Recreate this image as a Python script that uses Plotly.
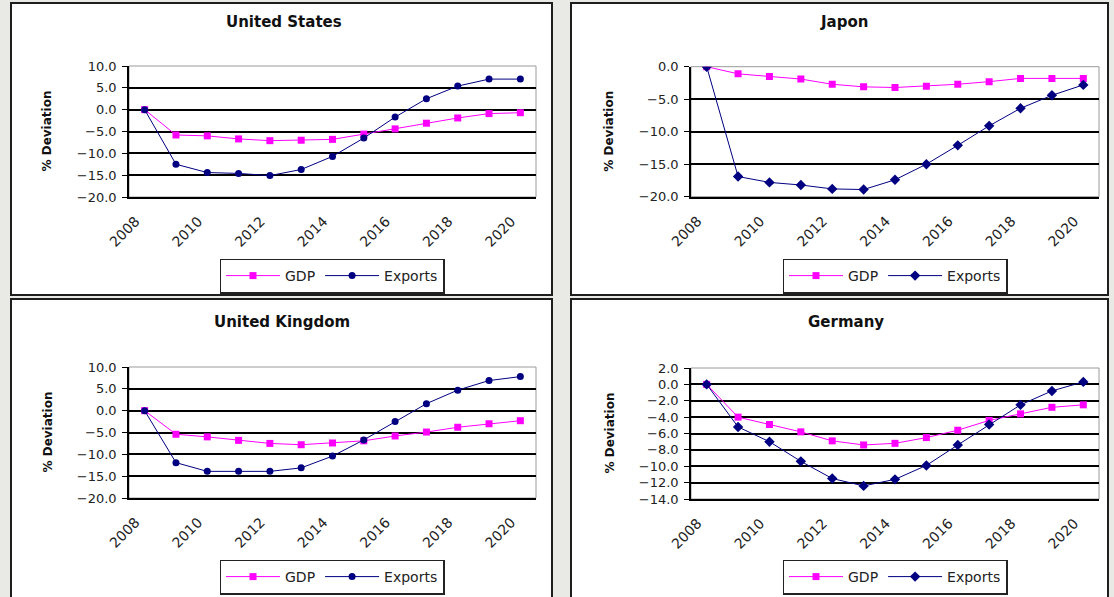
import plotly.graph_objects as go

# Years on the category axis and the labelled ones
years = list(range(2008, 2021))
label_years = list(range(2008, 2021, 2))

# % deviation from baseline, by country
us_gdp = [0.0, -5.8, -6.0, -6.7, -7.1, -7.0, -6.8, -5.6, -4.4, -3.1, -1.9, -0.9, -0.7]
us_exports = [0.0, -12.5, -14.4, -14.6, -15.1, -13.7, -10.7, -6.5, -1.7, 2.5, 5.4, 7.0, 7.0]

jp_gdp = [0.0, -1.1, -1.5, -1.9, -2.7, -3.1, -3.2, -3.0, -2.7, -2.3, -1.8, -1.8, -1.8]
jp_exports = [0.0, -16.9, -17.8, -18.2, -18.8, -18.9, -17.4, -15.0, -12.1, -9.1, -6.4, -4.4, -2.8]

uk_gdp = [0.0, -5.4, -6.0, -6.8, -7.5, -7.8, -7.4, -6.9, -5.8, -4.9, -3.8, -3.0, -2.3]
uk_exports = [0.0, -11.9, -13.9, -13.9, -13.9, -13.1, -10.4, -6.7, -2.5, 1.6, 4.7, 6.9, 7.8]

de_gdp = [0.0, -4.0, -4.9, -5.8, -6.9, -7.4, -7.2, -6.5, -5.6, -4.4, -3.6, -2.8, -2.5]
de_exports = [0.0, -5.2, -7.0, -9.4, -11.5, -12.4, -11.6, -9.9, -7.4, -4.9, -2.5, -0.8, 0.3]

W, H = 1114, 597
FONT = "DejaVu Sans"
GDP_COLOR = "#ff00ff"
EXP_COLOR = "#000080"

# (title, gdp, exports, export marker, y range, y step,
#  plot box px [left, right, top, bottom], panel box px, title pos, ylabel x, legend centre)
panels = [
    ("United States", us_gdp, us_exports, "circle", (-20, 10), 5,
     (129, 536, 66, 197), (11, 552, 3, 295), (284, 22), 47, (332, 276)),
    ("Japon", jp_gdp, jp_exports, "diamond", (-20, 0), 5,
     (691, 1099, 66.7, 196.7), (571, 1108, 3, 295), (844, 22), 609, (895, 276)),
    ("United Kingdom", uk_gdp, uk_exports, "circle", (-20, 10), 5,
     (129, 536, 367, 498), (11, 552, 299, 610), (282, 322), 47, (332, 577)),
    ("Germany", de_gdp, de_exports, "diamond", (-14, 2), 2,
     (691, 1099, 368, 499), (571, 1108, 299, 610), (846, 322), 609, (895, 577)),
]

fig = go.Figure()
shapes = []
annotations = []
layout_axes = {}

for i, (title, gdp, exp, emark, yr, ystep, pbox, panel, tpos, ylx, lpos) in enumerate(panels, start=1):
    xa = "x" if i == 1 else f"x{i}"
    ya = "y" if i == 1 else f"y{i}"
    leg = "legend" if i == 1 else f"legend{i}"
    l, r, t, b = pbox

    # white panel with dark frame
    shapes.append(dict(type="rect", xref="paper", yref="paper", layer="below",
                       x0=panel[0] / W, x1=panel[1] / W,
                       y0=1 - panel[3] / H, y1=1 - panel[2] / H,
                       fillcolor="white", line=dict(color="#1e1e1e", width=2)))
    # light plot-area frame
    shapes.append(dict(type="rect", xref="paper", yref="paper", layer="below",
                       x0=l / W, x1=r / W, y0=1 - b / H, y1=1 - t / H,
                       fillcolor="white", line=dict(color="#9a9a9a", width=1)))

    fig.add_trace(go.Scatter(
        x=years, y=gdp, name="GDP", mode="lines+markers", xaxis=xa, yaxis=ya, legend=leg,
        line=dict(color=GDP_COLOR, width=1),
        marker=dict(symbol="square", size=7, color=GDP_COLOR)))
    fig.add_trace(go.Scatter(
        x=years, y=exp, name="Exports", mode="lines+markers", xaxis=xa, yaxis=ya, legend=leg,
        line=dict(color=EXP_COLOR, width=1),
        marker=dict(symbol=emark, size=7 if emark == "circle" else 8, color=EXP_COLOR)))

    xkey = "xaxis" if i == 1 else f"xaxis{i}"
    ykey = "yaxis" if i == 1 else f"yaxis{i}"
    layout_axes[xkey] = dict(
        domain=[l / W, r / W], anchor=ya, range=[2007.5, 2020.5], automargin=False,
        tickmode="array", tickvals=label_years, ticktext=[str(v) for v in label_years],
        tickangle=-45, showgrid=False, zeroline=False,
        showline=True, linecolor="black", linewidth=1.5, ticks="",
        ticklabelshift=-9, ticklabelstandoff=9,
        tickfont=dict(family=FONT, size=14, color="#222"), fixedrange=True)
    layout_axes[ykey] = dict(
        domain=[1 - b / H, 1 - t / H], anchor=xa, range=list(yr), automargin=False,
        tickmode="linear", tick0=yr[0], dtick=ystep, tickformat=".1f",
        showgrid=True, gridcolor="black", gridwidth=1.5, zeroline=False,
        showline=True, linecolor="black", linewidth=1.5,
        ticks="outside", ticklen=5, tickcolor="black", ticklabelstandoff=3,
        tickfont=dict(family=FONT, size=13, color="#222"), fixedrange=True)

    annotations.append(dict(text=f"<b>{title}</b>", xref="paper", yref="paper",
                            x=tpos[0] / W, y=1 - tpos[1] / H, showarrow=False,
                            xanchor="center", yanchor="middle",
                            font=dict(family=FONT, size=15, color="#111")))
    annotations.append(dict(text="<b>% Deviation</b>", xref="paper", yref="paper",
                            x=ylx / W, y=1 - (t + b) / 2 / H, showarrow=False, textangle=-90,
                            xanchor="center", yanchor="middle",
                            font=dict(family=FONT, size=12, color="#111")))
    layout_axes[leg] = dict(
        x=lpos[0] / W, y=1 - lpos[1] / H, xanchor="center", yanchor="middle",
        orientation="h", bgcolor="white", bordercolor="#222", borderwidth=1.5,
        font=dict(family=FONT, size=14, color="#222"), itemwidth=54,
        tracegroupgap=0)

fig.update_layout(
    template="none",
    width=W, height=H, margin=dict(l=0, r=0, t=0, b=0, autoexpand=False),
    paper_bgcolor="#e9e9e6", plot_bgcolor="rgba(0,0,0,0)",
    shapes=shapes, annotations=annotations, showlegend=True,
    **layout_axes)

fig.write_html("out.html")
